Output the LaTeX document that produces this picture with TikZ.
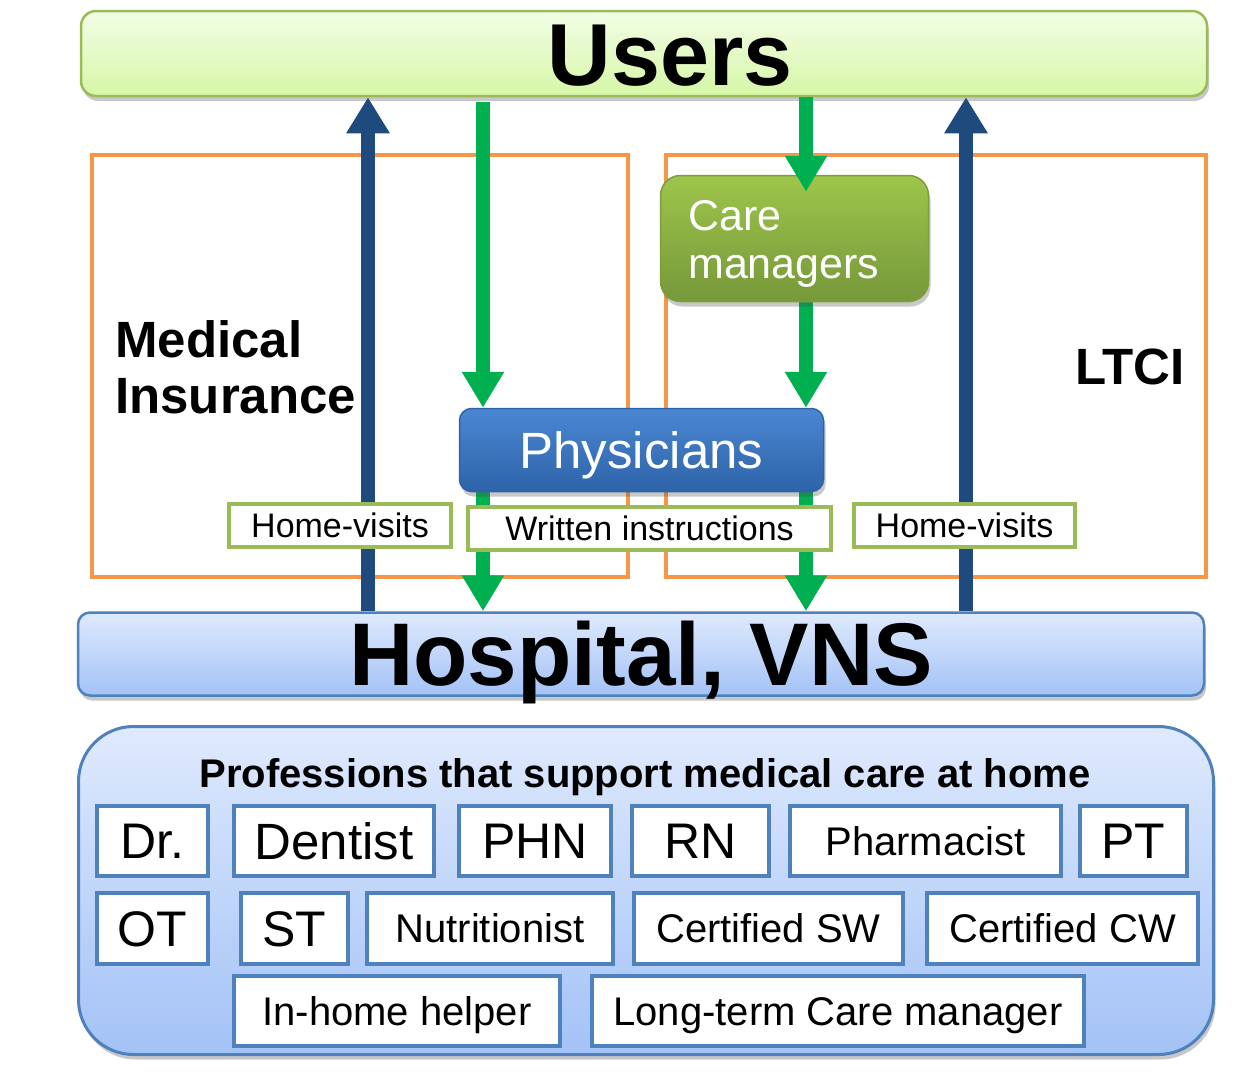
\documentclass[tikz,border=0pt]{standalone}
\usepackage{fontspec}
\setmainfont{Liberation Sans}
\usetikzlibrary{arrows.meta,shadows,backgrounds}
\definecolor{orng}{HTML}{F79646}
\definecolor{olivegr}{HTML}{9BBB59}
\definecolor{arrblue}{HTML}{1F4A7E}
\definecolor{arrgreen}{HTML}{00B050}
\definecolor{gblue}{HTML}{4F81BD}
\definecolor{usertop}{HTML}{F2FDE6}
\definecolor{userbot}{HTML}{D6F7A6}
\definecolor{caretop}{HTML}{9EC54B}
\definecolor{carebot}{HTML}{76983A}
\definecolor{phystop}{HTML}{4A87D2}
\definecolor{physbot}{HTML}{2E63A8}
\definecolor{hosptop}{HTML}{DFEAFD}
\definecolor{hospbot}{HTML}{A3C2F6}
\begin{document}
\begin{tikzpicture}[x=1pt,y=-1pt,
  fsz/.style={font=\fontsize{#1}{#1}\selectfont, text height={0.716*#1pt}, text depth=0pt},
  bfsz/.style={font=\bfseries\fontsize{#1}{#1}\selectfont, text height={0.716*#1pt}, text depth=0pt},
  orangebox/.style={draw=orng, line width=4pt},
  bluearr/.style={draw=arrblue, line width=14pt, -{Triangle[length=36pt,width=41pt]}},
  greenarr/.style={draw=arrgreen, line width=14pt, -{Triangle[length=36pt,width=40pt]}},
  lbl/.style={draw=olivegr, line width=4pt, fill=white, inner sep=0pt, fsz=34},
  gbox/.style={draw=gblue, line width=4.5pt, fill=white, inner sep=0pt},
  shad/.style={drop shadow={shadow xshift=2pt, shadow yshift=-5pt, opacity=0.3, fill=black!70}},
]
\useasboundingbox (0,0) rectangle (1253,1071);
\begin{pgfonlayer}{background}
\fill[white] (0,0) rectangle (1253,1071);
\node[orangebox, minimum width=536pt, minimum height=422pt] (mi) at (360,366) {};
\node[orangebox, minimum width=540pt, minimum height=422pt] (lt) at (935.5,366) {};
\end{pgfonlayer}

% top and middle nodes
\node[shad, draw=olivegr, line width=2.5pt, rounded corners=15pt, top color=usertop, bottom color=userbot,
      minimum width=1126pt, minimum height=85pt] (users) at (644,53.5) {};
\node[anchor=base, inner sep=0pt, font=\bfseries\fontsize{88}{88}\selectfont] (userstxt) at (670,85) {Users};

\node[shad, draw=caretop!80!black, line width=1.5pt, rounded corners=20pt, top color=caretop, bottom color=carebot,
      minimum width=268pt, minimum height=126pt] (care) at (794.5,238.5) {};
\node[anchor=north west, inner sep=0pt, align=left, font=\fontsize{43}{48}\selectfont, text=white] (caretxt) at (688,200) {Care\\managers};

\node[shad, draw=physbot, line width=1.5pt, rounded corners=12pt, top color=phystop, bottom color=physbot,
      minimum width=364pt, minimum height=83pt, fsz=51, text=white] (phys) at (641.5,450) {Physicians};

\node[shad, draw=gblue, line width=2.5pt, rounded corners=12pt, top color=hosptop, bottom color=hospbot,
      minimum width=1126pt, minimum height=83pt, bfsz=89] (hosp) at (641,654) {Hospital, VNS};

\node[anchor=north west, inner sep=0pt, align=left, font=\bfseries\fontsize{51}{56}\selectfont] (mitxt) at (115,320) {Medical\\Insurance};
\node[anchor=base west, inner sep=0pt, font=\bfseries\fontsize{51}{51}\selectfont] (ltci) at (1075,384) {LTCI};

% labels
\node[lbl, minimum width=222pt, minimum height=43pt] (hv1) at (340,525.5) {Home-visits};
\node[lbl, minimum width=363pt, minimum height=43pt] (wi) at (649.5,528.5) {Written instructions};
\node[lbl, minimum width=221pt, minimum height=43pt] (hv2) at (964.5,525.5) {Home-visits};

% arrow columns
\coordinate (bx1) at (368,0);
\coordinate (bx2) at (966,0);
\coordinate (gx1) at (483,0);
\coordinate (gx2) at (806,0);

\begin{pgfonlayer}{background}
\draw[bluearr] (bx1 |- hosp.north) -- (bx1 |- users.south);
\draw[bluearr] (bx2 |- hosp.north) -- (bx2 |- users.south);
\draw[greenarr, shorten <=5pt] (gx1 |- users.south) -- (gx1 |- phys.north);
\draw[greenarr] (gx2 |- care.south) -- (gx2 |- phys.north);
\draw[greenarr] (gx1 |- phys.south) -- (gx1 |- hosp.north);
\draw[greenarr] (gx2 |- phys.south) -- (gx2 |- hosp.north);
\end{pgfonlayer}
\draw[greenarr, shorten >=-17pt] (gx2 |- users.south) -- (gx2 |- care.north);

% professions container
\node[shad, draw=gblue, line width=3pt, rounded corners=55pt, top color=hosptop, bottom color=hospbot,
      minimum width=1135pt, minimum height=328pt] (prof) at (646,890.5) {};
\node[bfsz=40, inner sep=0pt] (title) at (645,773) {Professions that support medical care at home};

\node[gbox, fsz=50, minimum width=111pt, minimum height=70pt] (dr) at (152.5,841) {Dr.};
\node[gbox, fsz=51, minimum width=200pt, minimum height=70pt] (dent) at (334,841) {Dentist};
\node[gbox, fsz=50, minimum width=152pt, minimum height=70pt] (phn) at (535,841) {PHN};
\node[gbox, fsz=50, minimum width=137pt, minimum height=70pt] (rn) at (700.5,841) {RN};
\node[gbox, fsz=40, minimum width=271pt, minimum height=70pt] (pharm) at (925.5,841) {Pharmacist};
\node[gbox, fsz=50, minimum width=107pt, minimum height=70pt] (pt) at (1133.5,841) {PT};

\node[gbox, fsz=50, minimum width=111pt, minimum height=71pt] (ot) at (152.5,928.5) {OT};
\node[gbox, fsz=50, minimum width=107pt, minimum height=71pt] (st) at (294.5,928.5) {ST};
\node[gbox, fsz=40, minimum width=246pt, minimum height=71pt] (nutr) at (490,928.5) {Nutritionist};
\node[gbox, fsz=40, minimum width=269pt, minimum height=71pt] (csw) at (768.5,928.5) {Certified SW};
\node[gbox, fsz=40, minimum width=271pt, minimum height=71pt] (ccw) at (1062.5,928.5) {Certified CW};

\node[gbox, fsz=40, minimum width=326pt, minimum height=70pt] (ihh) at (397,1011) {In-home helper};
\node[gbox, fsz=40, minimum width=492pt, minimum height=70pt] (ltcm) at (838,1011) {Long-term Care manager};
\end{tikzpicture}
\end{document}
